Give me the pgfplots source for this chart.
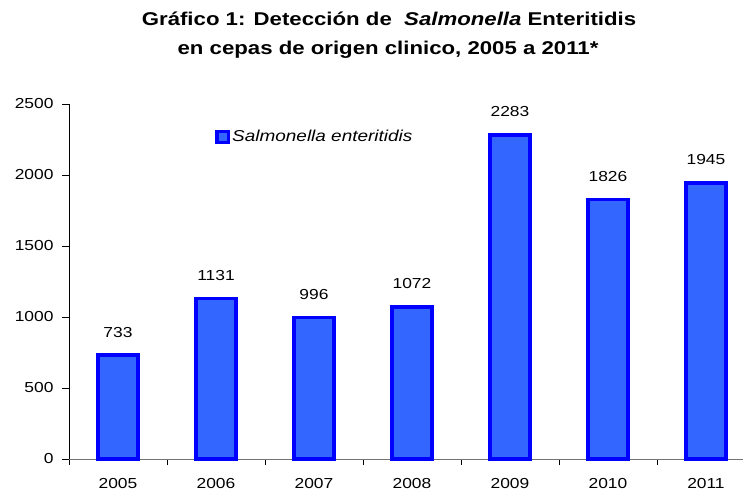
\documentclass[border=0pt]{standalone}
\usepackage{pgfplots}
\pgfplotsset{compat=1.18}
\usepackage{fontspec}
\setmainfont{Liberation Sans}[FakeStretch=1.2]
\definecolor{barfill}{RGB}{51,102,255}
\definecolor{barline}{RGB}{0,0,255}
\begin{document}
\begin{tikzpicture}
\path[use as bounding box] (0,0) rectangle (743pt,-495pt);
\node[font=\fontsize{18.5}{22}\selectfont\bfseries, anchor=base, inner sep=0pt] at (389pt,-26pt)
  {Gráfico 1: Detección de \ \textit{Salmonella} Enteritidis};
\node[font=\fontsize{18.5}{22}\selectfont\bfseries, anchor=base, inner sep=0pt] at (388pt,-55pt)
  {en cepas de origen clinico, 2005 a 2011*};
\begin{axis}[
  at={(69pt,-459pt)}, anchor=south west,
  scale only axis, width=674pt, height=355pt,
  xmin=-0.5, xmax=6.378, ymin=0, ymax=2500,
  axis lines=left, 
  separate axis lines,
  y axis line style={-, black, line width=0.6pt},
  x axis line style={-, black!55, line width=1pt},
  ytick={0,500,...,2500},
  xtick={0,...,6},
  xticklabels={2005,2006,2007,2008,2009,2010,2011},
  minor xtick={-0.5,0.5,...,5.5},
  tick align=outside,
  major tick length=7pt,
  x tick style={draw=none},
  minor x tick style={draw=black, line width=0.6pt},
  minor tick length=6pt,
  y tick style={black, line width=0.6pt},
  ticklabel style={font=\fontsize{14.5}{16}\selectfont},
  /pgf/number format/assume math mode=true,
  /pgf/number format/1000 sep={},
  scaled y ticks=false,
  yticklabel style={xshift=-5pt},
  xticklabel style={yshift=-9pt},
  ybar, bar width=40pt,
  nodes near coords,
  every node near coord/.style={font=\fontsize{14.5}{16}\selectfont, anchor=south, inner sep=0pt, yshift=16pt},
  legend style={draw=none, fill=none, inner sep=0pt, at={(axis description cs:0.2166,0.907)}, anchor=west, font=\fontsize{15.8}{18}\selectfont\itshape, legend cell align=left,
    /tikz/every even column/.append style={column sep=0pt}},
  legend image code/.code={\draw[#1, line width=3.5pt] (1.75pt,-5.5pt) rectangle (13.25pt,5.5pt);},
  clip=false,
]
\addplot[fill=barfill, draw=barline, line width=3.5pt] coordinates {(0,733) (1,1131) (2,996) (3,1072) (4,2283) (5,1826) (6,1945)};
\legend{Salmonella enteritidis}
\end{axis}
\end{tikzpicture}
\end{document}
